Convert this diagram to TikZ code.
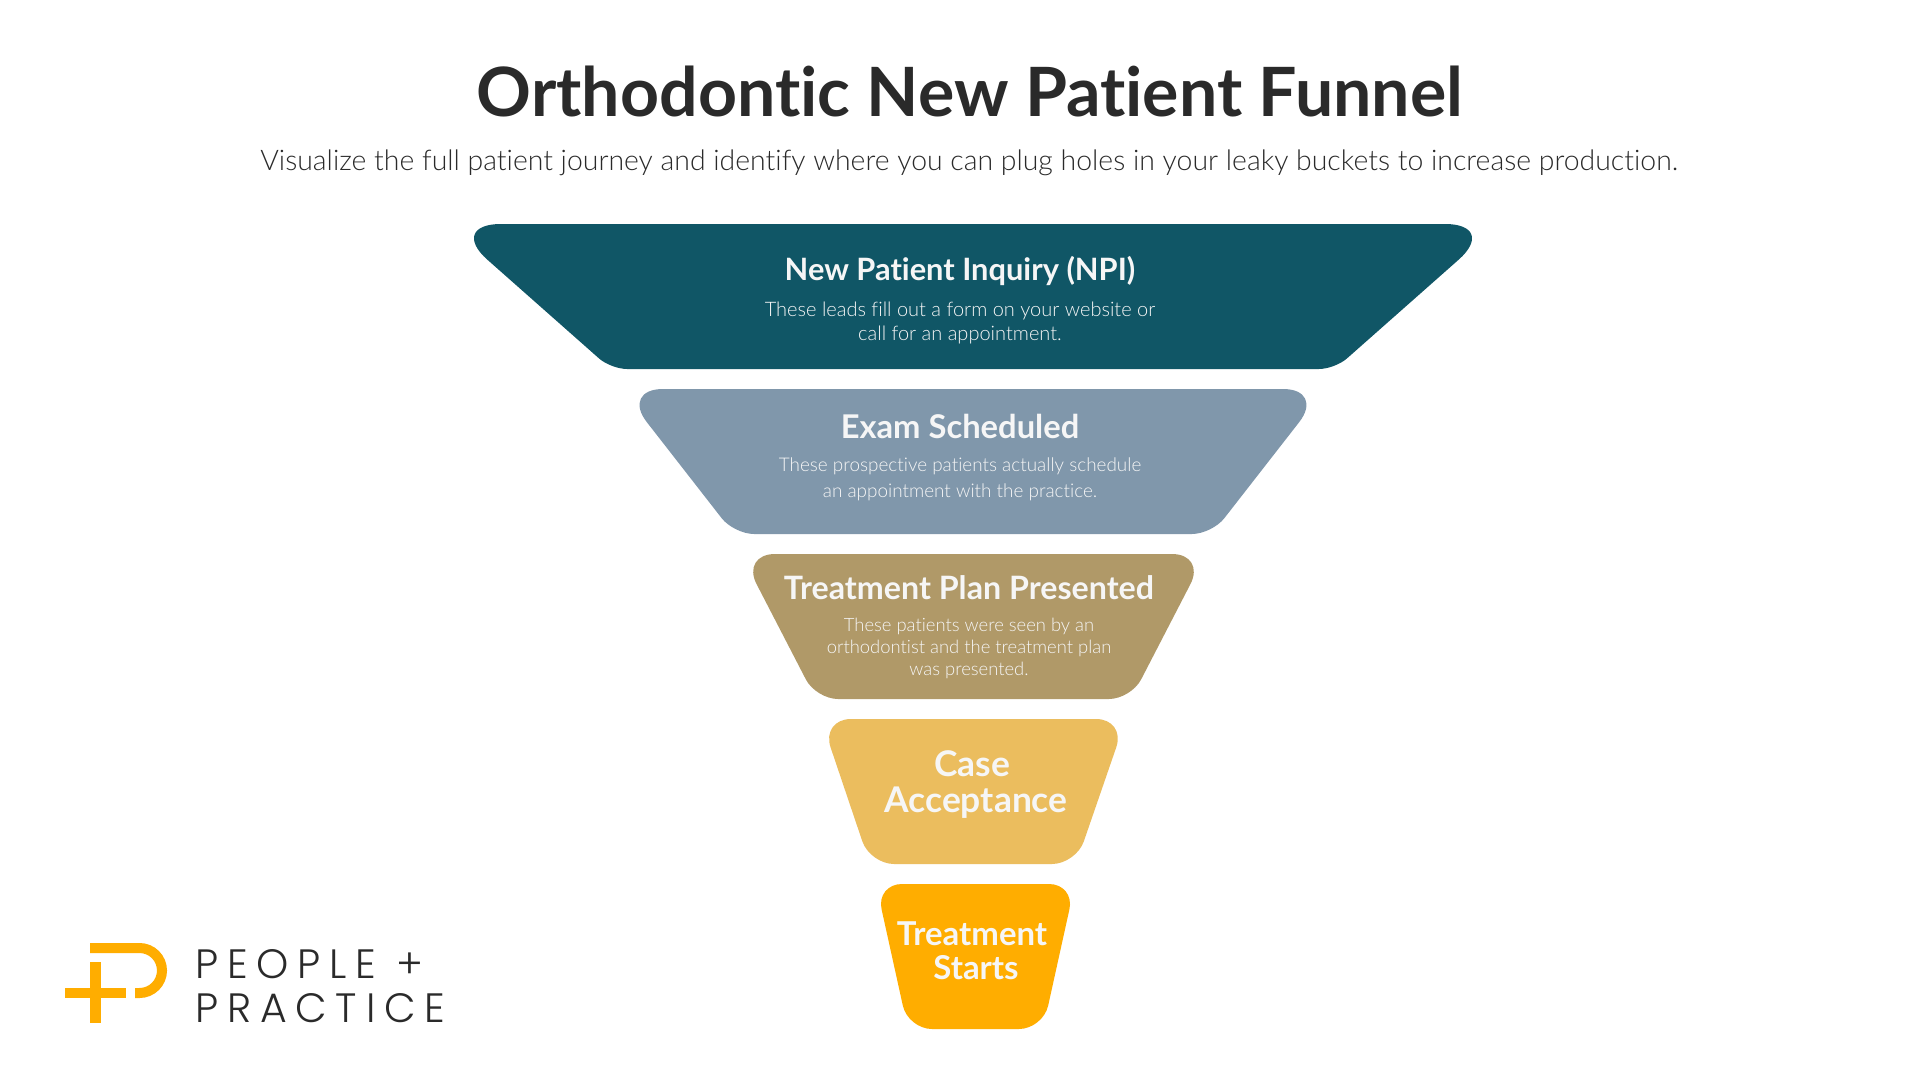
\documentclass[tikz,border=0pt]{standalone}
\usepackage{fontspec}
\setmainfont[Ligatures=NoCommon]{Lato}
\newfontfamily\lightf[Ligatures=NoCommon]{Lato Light}
\newfontfamily\logof[LetterSpace=21.5]{Poppins Light}
\definecolor{cteal}{HTML}{105666}
\definecolor{cblue}{HTML}{8097AB}
\definecolor{ctan}{HTML}{B09968}
\definecolor{cgold}{HTML}{EBBD5E}
\definecolor{corange}{HTML}{FFAD00}
\definecolor{cink}{HTML}{2A2A2A}
\definecolor{cwhite}{HTML}{F6F6F6}
\newcommand{\funnelband}[8]{% colour, top radius, bottom radius, x left top, x right top, x left bottom, x right bottom, y top
  \fill[#1] ({(#4+#5)/2},#8) [rounded corners=#2pt] -- (#4,#8) [rounded corners=#3pt] -- (#6,#8+145) -- (#7,#8+145) [rounded corners=#2pt] -- (#5,#8) [sharp corners] -- cycle;
}
\tikzset{
  x=1pt,y=-1pt,
  head/.style={inner sep=0pt,text=cwhite,font=\fontsize{#1}{#1}\selectfont\bfseries},
  head/.default=31,
  sub/.style={inner sep=0pt,text=cwhite,align=center,font=\fontsize{#1}{24}\lightf},
  sub/.default=20,
  logotext/.style={inner sep=0pt,anchor=base west,text=cink,font=\fontsize{41}{44}\logof},
}
\begin{document}
\begin{tikzpicture}
\useasboundingbox (0,0) rectangle (1920,1080);
\fill[white] (0,0) rectangle (1920,1080);
\node[inner sep=0pt,text=cink,font=\fontsize{68}{72}\selectfont\bfseries] (title) at (970,92) {Orthodontic New Patient Funnel};
\node[inner sep=0pt,text=cink,font=\fontsize{28.4}{32}\lightf] (subtitle) at (969,163) {Visualize the full patient journey and identify where you can plug holes in your leaky buckets to increase production.};
\funnelband{cteal}{54}{16}{447}{1499}{611}{1335}{224}
\funnelband{cblue}{42}{20}{621}{1325}{734}{1212}{389}
\funnelband{ctan}{34}{22}{741}{1206}{816}{1131}{554}
\funnelband{cgold}{30}{24}{821}{1126}{870}{1076}{719}
\funnelband{corange}{26}{24}{876}{1075}{908}{1043}{884}
\node[head=30.8] (npi) at (960,271) {New Patient Inquiry (NPI)};
\node[sub] (npitext) at (960,323) {These leads fill out a form on your website or\\call for an appointment.};
\node[head=32.7] (exam) at (960,426.5) {Exam Scheduled};
\node[sub=18.9,font=\fontsize{18.9}{25.7}\lightf] (examtext) at (960,479) {These prospective patients actually schedule\\an appointment with the practice.};
\node[head=32.2] (plan) at (969,588) {Treatment Plan Presented};
\node[sub=18.4,font=\fontsize{18.4}{22}\lightf] (plantext) at (969,648) {These patients were seen by an\\orthodontist and the treatment plan\\was presented.};
\node[head=35.4] (case) at (972,764) {Case};
\node[head=35.4] (accept) at (976,803) {Acceptance};
\node[head=32.9] (treat) at (972,934) {Treatment};
\node[head=32.9] (starts) at (976,968) {Starts};
% logo
\draw[corange,line width=10pt] (90,948) -- (139.5,948) arc[start angle=-90,end angle=90,radius=22.5] -- (135,993);
\fill[corange] (65,988) rectangle (126,998);
\fill[corange] (90,962) rectangle (101,1023);
\node[logotext] (people) at (195,978) {PEOPLE +};
\node[logotext] (practice) at (195,1022) {PRACTICE};
\end{tikzpicture}
\end{document}
